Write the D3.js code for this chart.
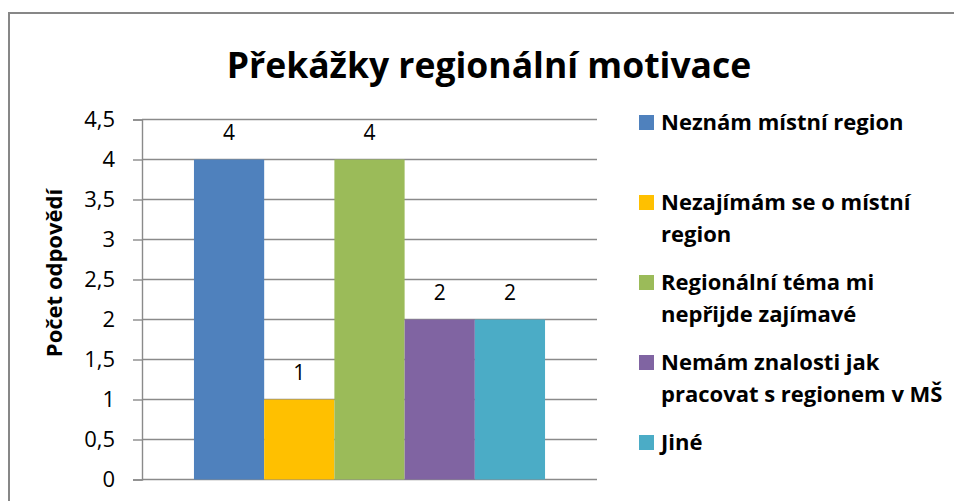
<!DOCTYPE html>
<html>
<head>
<meta charset="utf-8">
<script src="https://cdn.jsdelivr.net/npm/d3@7"></script>
<style>
  html, body { margin: 0; padding: 0; background: #fff; }
  svg { display: block; font-family: "Open Sans", Lato, sans-serif; }
</style>
</head>
<body>
<div id="chart"></div>
<script>
// chart values
const chartTitle = "Překážky regionální motivace";
const yTitle = "Počet odpovědí";
const categories = [
  "Neznám místní region",
  "Nezajímám se o místní region",
  "Regionální téma mi nepřijde zajímavé",
  "Nemám znalosti jak pracovat s regionem v MŠ",
  "Jiné"
];
// legend text as it wraps in the picture
const legendLines = [
  ["Neznám místní region"],
  ["Nezajímám se o místní", "region"],
  ["Regionální téma mi", "nepřijde zajímavé"],
  ["Nemám znalosti jak", "pracovat s regionem v MŠ"],
  ["Jiné"]
];
const values = [4, 1, 4, 2, 2];
const colors = ["#4F81BD", "#FFC000", "#9BBB59", "#8064A2", "#4BACC6"];
const yTicks = [0, 0.5, 1, 1.5, 2, 2.5, 3, 3.5, 4, 4.5];

const W = 954, H = 501;
const margin = { top: 119.5, left: 142, right: 357, bottom: 21.5 };
const width = W - margin.left - margin.right;
const height = H - margin.top - margin.bottom;

const svg = d3.select("#chart").append("svg")
    .attr("width", W)
    .attr("height", H);

// outer frame (runs off the right and bottom edge)
svg.append("rect")
    .attr("x", 9)
    .attr("y", 13)
    .attr("width", 1000)
    .attr("height", 600)
    .attr("fill", "none")
    .attr("stroke", "#878787")
    .attr("stroke-width", 2);

svg.append("text")
    .attr("x", 489)
    .attr("y", 78)
    .attr("text-anchor", "middle")
    .attr("font-size", 35.5)
    .attr("font-weight", "bold")
    .attr("fill", "#000")
    .text(chartTitle);

const g = svg.append("g")
    .attr("transform", `translate(${margin.left},${margin.top})`);

const y = d3.scaleLinear()
    .domain([0, 4.5])
    .range([height, 0]);

// single category group, series side by side
const x0 = d3.scaleBand()
    .domain([""])
    .range([0, width])
    .paddingInner(0)
    .paddingOuter(0.148);

const x1 = d3.scaleBand()
    .domain(categories)
    .range([0, x0.bandwidth()]);

// gridlines
g.append("g")
    .selectAll("line")
    .data(yTicks)
    .join("line")
    .attr("x1", 0)
    .attr("x2", width)
    .attr("y1", d => y(d))
    .attr("y2", d => y(d))
    .attr("stroke", "#8a8a8a")
    .attr("stroke-width", 1.4);

// y axis
const yAxis = g.append("g")
    .call(d3.axisLeft(y)
        .tickValues(yTicks)
        .tickSize(9)
        .tickPadding(18)
        .tickFormat(d => String(d).replace(".", ",")));
yAxis.select(".domain").attr("stroke", "#8a8a8a").attr("stroke-width", 1.4);
yAxis.selectAll(".tick line").attr("stroke", "#8a8a8a").attr("stroke-width", 1.4);
yAxis.selectAll(".tick text")
    .attr("font-family", "'Open Sans', Lato, sans-serif")
    .attr("font-size", 22)
    .attr("fill", "#000");

svg.append("text")
    .attr("transform", "translate(62,273) rotate(-90)")
    .attr("text-anchor", "middle")
    .attr("font-size", 22)
    .attr("font-weight", "bold")
    .attr("fill", "#000")
    .text(yTitle);

// bars
const grp = g.append("g")
    .attr("transform", `translate(${x0("")},0)`);

grp.selectAll("rect")
    .data(values)
    .join("rect")
    .attr("x", (d, i) => x1(categories[i]))
    .attr("y", d => y(d))
    .attr("width", x1.bandwidth())
    .attr("height", d => height - y(d))
    .attr("fill", (d, i) => colors[i]);

grp.selectAll("text.val")
    .data(values)
    .join("text")
    .attr("class", "val")
    .attr("x", (d, i) => x1(categories[i]) + x1.bandwidth() / 2)
    .attr("y", d => y(d) - 19.5)
    .attr("text-anchor", "middle")
    .attr("font-size", 21)
    .attr("fill", "#000")
    .text(d => d);

// legend
const legend = svg.append("g")
    .attr("transform", "translate(639,130)");

const item = legend.selectAll("g")
    .data(categories)
    .join("g")
    .attr("transform", (d, i) => `translate(0,${i * 80})`);

item.append("rect")
    .attr("x", 0)
    .attr("y", -15)
    .attr("width", 15)
    .attr("height", 15)
    .attr("fill", (d, i) => colors[i]);

item.append("text")
    .attr("font-size", 22)
    .attr("font-weight", "bold")
    .attr("fill", "#000")
    .selectAll("tspan")
    .data((d, i) => legendLines[i])
    .join("tspan")
    .attr("x", 22)
    .attr("y", (d, j) => j * 32)
    .text(d => d);
</script>
</body>
</html>
